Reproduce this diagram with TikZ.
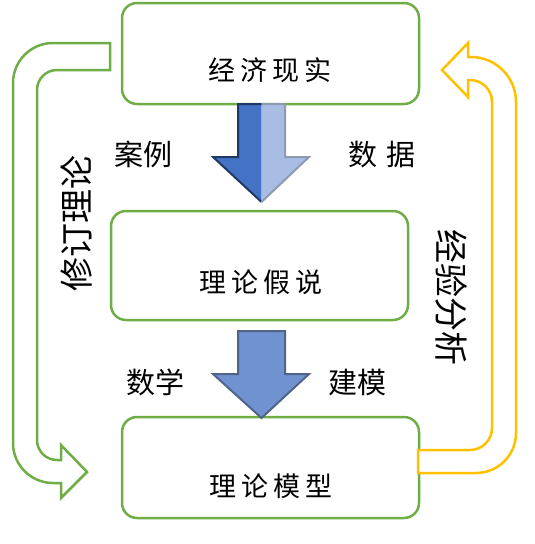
\documentclass[tikz,border=0pt]{standalone}
\usepackage{fontspec}
\setmainfont{Noto Sans CJK SC}
\definecolor{gr}{HTML}{70AD47}
\definecolor{grl}{HTML}{A9D18E}
\definecolor{yl}{HTML}{FFC000}
\definecolor{bd}{HTML}{4472C4}
\definecolor{bdo}{HTML}{1F3864}
\definecolor{bl}{HTML}{A9BCE3}
\definecolor{blo}{HTML}{8E9AB0}
\definecolor{bm}{HTML}{7192D0}
\definecolor{bmo}{HTML}{4F6489}
\begin{document}
\begin{tikzpicture}[x=1pt,y=-1pt,
  box/.style={draw=gr,line width=2.5pt,rounded corners=15pt,fill=white,minimum width=297pt,inner sep=0pt},
  boxtxt/.style={font=\fontsize{27}{30}\selectfont,inner sep=0pt},
  lbl/.style={font=\fontsize{29}{32}\selectfont,inner sep=0pt},
  vlbl/.style={font=\fontsize{34}{38}\selectfont,inner sep=0pt},
  band/.style={line width=2.5pt,fill=white,line join=miter}]
\useasboundingbox (0,0) rectangle (535,544);
% boxes
\node[box,minimum height=101pt] (b1) at (270.5,53.5) {};
\node[box,minimum height=109pt] (b2) at (259.5,265.5) {};
\node[box,minimum height=101pt] (b3) at (270.5,467.5) {};
\node[boxtxt] (t1) at (270,70) {经\kern5pt 济\kern5pt 现\kern5pt 实};
\node[boxtxt] (t2) at (261,282) {理\kern5pt 论\kern5pt 假\kern5pt 说};
\node[boxtxt] (t3) at (271,486) {理\kern5pt 论\kern5pt 模\kern5pt 型};
% arrow 1 (two halves)
\fill[bd] (238,104) -- (261.5,104) -- (261.5,202) -- (213,157) -- (238,157) -- cycle;
\fill[bl] (261.5,104) -- (285,104) -- (285,157) -- (309,157) -- (261.5,202) -- cycle;
\draw[bdo,line width=2pt,line join=miter] (261.5,104) -- (238,104) -- (238,157) -- (213,157) -- (261.5,202);
\draw[blo,line width=2pt,line join=miter] (261.5,104) -- (285,104) -- (285,157) -- (309,157) -- (261.5,202);
% arrow 2
\draw[bmo,fill=bm,line width=2pt,line join=miter] (238,331) -- (285,331) -- (285,374) -- (309,374) -- (261.5,418) -- (213,374) -- (238,374) -- cycle;
% labels
\node[lbl] (l1) at (143,154) {案例};
\node[lbl] (l2) at (382,155) {数\kern10pt 据};
\node[lbl] (l3) at (155,382) {数学};
\node[lbl] (l4) at (357,382) {建模};
% green feedback band
\draw[gr,band] (110,43) -- (53,43) arc[start angle=90,end angle=180,radius=40pt]
  -- (13,443) arc[start angle=180,end angle=270,radius=40pt]
  -- (61,483) -- (61,498) -- (87,472) -- (61,445) -- (61,460) -- (57,460)
  arc[start angle=270,end angle=180,radius=20pt]
  -- (37,90) arc[start angle=180,end angle=90,radius=20pt]
  -- (110,70) -- cycle;
% yellow band
\draw[yl,band] (418,450) -- (470,450) arc[start angle=-90,end angle=0,radius=22pt]
  -- (492,102) arc[start angle=0,end angle=90,radius=22pt]
  -- (468,80) -- (468,97) -- (442,70) -- (468,43) -- (468,57) -- (471,57)
  arc[start angle=90,end angle=0,radius=45pt]
  -- (516,433) arc[start angle=0,end angle=-90,radius=40pt]
  -- (418,473) -- cycle;
\node[vlbl,rotate=90] (v1) at (77,223) {修订理论};
\node[vlbl,rotate=-90] (v2) at (451,297) {经验分析};
\end{tikzpicture}
\end{document}
